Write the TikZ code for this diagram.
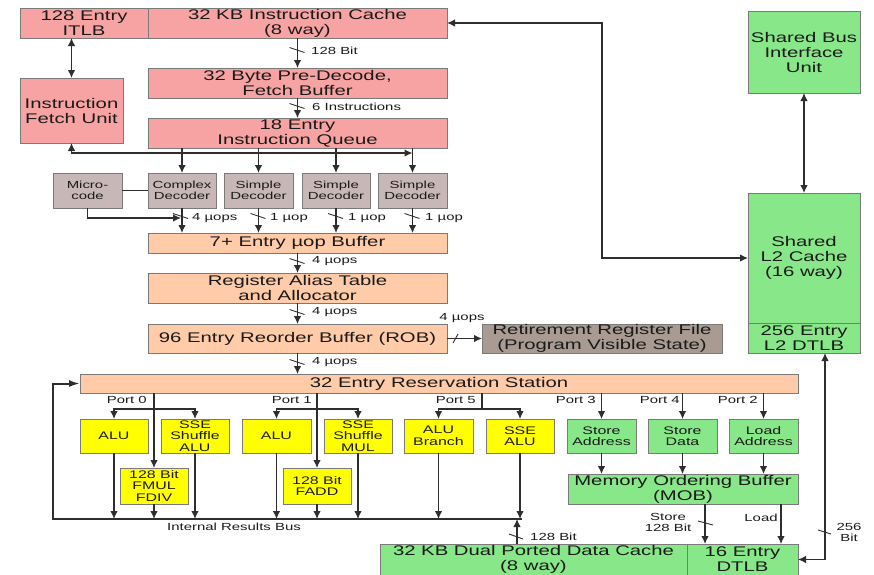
\documentclass[tikz,border=0pt]{standalone}
\usepackage{fontspec}
\setmainfont[FakeStretch=1.45]{Liberation Sans}
\usetikzlibrary{arrows.meta}
\definecolor{pinkc}{HTML}{F8A3A3}
\definecolor{peachc}{HTML}{FFCBA8}
\definecolor{decc}{HTML}{C8B7B7}
\definecolor{rrfc}{HTML}{A99B92}
\definecolor{yelc}{HTML}{FFFF00}
\definecolor{greenc}{HTML}{88E788}
\definecolor{boxline}{HTML}{7A7A7A}
\definecolor{linec}{HTML}{2E2E2E}
\definecolor{txt}{HTML}{1A1A1A}
\newcommand\fbig{\fontsize{14}{15}\selectfont}
\newcommand\fmid{\fontsize{11}{11.5}\selectfont}
\newcommand\fsmall{\fontsize{10.3}{11}\selectfont}
\newcommand\mybox[7]{\node[#6, minimum width={#4-#2}, minimum height={#5-#3}] (#1) at ({(#2+#4)/2},{(#3+#5)/2}) {#7};}
\newcommand\vslash[2]{\draw[slashst] ({#1-8},{#2-2.5}) -- ({#1+7},{#2+2.5});}
\begin{document}
\begin{tikzpicture}[x=1pt,y=-1pt,
  box/.style={draw=boxline, line width=0.9pt, inner sep=0pt, outer sep=0pt, align=center, text=txt},
  pinkb/.style={box, fill=pinkc, font=\fbig},
  decb/.style={box, fill=decc, font=\fsmall},
  peachb/.style={box, fill=peachc, font=\fbig},
  rrfb/.style={box, fill=rrfc, font=\fbig},
  yelb/.style={box, fill=yelc, font=\fmid},
  greenb/.style={box, fill=greenc, font=\fbig},
  greens/.style={box, fill=greenc, font=\fmid},
  wire/.style={draw=linec, line width=1.2pt},
  conn/.style={wire, -{Latex[length=8pt,width=7.5pt]}},
  conntwo/.style={wire, {Latex[length=8pt,width=7.5pt]}-{Latex[length=8pt,width=7.5pt]}},
  busline/.style={draw=linec, line width=2pt, -{Latex[length=11pt,width=7pt]}},
  slashst/.style={draw=linec, line width=0.9pt},
  lbl/.style={font=\fsmall, text=txt, inner sep=0pt, align=center},
]
\useasboundingbox (0,0) rectangle (874,574);
\clip (0,0) rectangle (874,574);

% front end
\mybox{itlb}{20}{8}{148}{38}{pinkb}{128 Entry\\ITLB}
\mybox{icache}{148}{8}{447}{38}{pinkb}{32 KB Instruction Cache\\(8 way)}
\mybox{predec}{148}{68}{447}{98}{pinkb}{32 Byte Pre-Decode,\\Fetch Buffer}
\mybox{ifu}{20}{78}{123}{143}{pinkb}{Instruction\\Fetch Unit}
\mybox{iq}{148}{118}{447}{148}{pinkb}{18 Entry\\Instruction Queue}
\mybox{mc}{53}{173}{122}{208}{decb}{Micro-\\code}
\mybox{cd}{148}{173}{216}{208}{decb}{Complex\\Decoder}
\mybox{sd1}{224}{173}{293}{208}{decb}{Simple\\Decoder}
\mybox{sd2}{302}{173}{370}{208}{decb}{Simple\\Decoder}
\mybox{sd3}{378}{173}{447}{208}{decb}{Simple\\Decoder}
\mybox{uopb}{148}{233}{447}{253}{peachb}{7+ Entry µop Buffer}
\mybox{rat}{148}{273}{447}{303}{peachb}{Register Alias Table\\and Allocator}
\mybox{rob}{148}{324}{447}{353}{peachb}{96 Entry Reorder Buffer (ROB)}
\mybox{rrf}{482}{324}{722}{353}{rrfb}{Retirement Register File\\(Program Visible State)}
\mybox{rs}{80}{374}{798}{393}{peachb}{32 Entry Reservation Station}

% execution units
\mybox{alu0}{80}{419}{148}{453}{yelb}{ALU}
\mybox{sse0}{161}{419}{229}{453}{yelb}{SSE\\Shuffle\\ALU}
\mybox{fmul}{120}{468}{188}{504}{yelb}{128 Bit\\FMUL\\FDIV}
\mybox{alu1}{242}{419}{311}{453}{yelb}{ALU}
\mybox{sse1}{324}{419}{392}{453}{yelb}{SSE\\Shuffle\\MUL}
\mybox{fadd}{283}{468}{351}{504}{yelb}{128 Bit\\FADD}
\mybox{alub}{404}{419}{473}{453}{yelb}{ALU\\Branch}
\mybox{sse5}{486}{419}{554}{453}{yelb}{SSE\\ALU}
\mybox{sta}{567}{419}{636}{453}{greens}{Store\\Address}
\mybox{std}{648}{419}{717}{453}{greens}{Store\\Data}
\mybox{lda}{729}{419}{798}{453}{greens}{Load\\Address}
\mybox{mob}{568}{474}{798}{504}{greenb}{Memory Ordering Buffer\\(MOB)}
\mybox{dc}{380}{544}{687}{575}{greenb}{32 KB Dual Ported Data Cache\\(8 way)}
\mybox{dtlb}{687}{544}{798}{575}{greenb}{16 Entry\\DTLB}

% L2 side
\mybox{sbiu}{748}{11}{860}{93}{greenb}{Shared Bus\\Interface\\Unit}
\mybox{l2}{748}{193}{860}{323}{greenb}{Shared\\L2 Cache\\(16 way)}
\mybox{l2tlb}{748}{323}{860}{353}{greenb}{256 Entry\\L2 DTLB}

% front-end connectors
\draw[conntwo] (ifu.north) -- (ifu.north |- itlb.south);
\draw[conn] (icache.south) -- (predec.north);
\vslash{297.5}{50}
\node[lbl, anchor=west] (l128a) at (311,51) {128 Bit};
\draw[conn] (predec.south) -- (iq.north);
\vslash{297.5}{106}
\node[lbl, anchor=west] (l6i) at (312,107) {6 Instructions};
\foreach \d in {cd,sd1,sd2,sd3} {\draw[conn] (iq.south -| \d.north) -- (\d.north);}
\coordinate (fb) at (412.5,153);
\draw[conntwo] (ifu.south) |- (fb);
\draw[wire] (mc.east) -- (cd.west);
\coordinate (mcj) at (181,218);
\draw[conn] (mc.south) |- (mcj);
\foreach \d in {cd,sd1,sd2,sd3} {\draw[conn] (\d.south) -- (\d.south |- uopb.north);}
\vslash{181}{216}
\vslash{258.5}{216}
\vslash{336}{216}
\vslash{412.5}{216}
\node[lbl, anchor=west] (l4a) at (192,218) {4 µops};
\node[lbl, anchor=west] (l1a) at (270,218) {1 µop};
\node[lbl, anchor=west] (l1b) at (348,218) {1 µop};
\node[lbl, anchor=west] (l1c) at (425,218) {1 µop};
\draw[conn] (uopb.south) -- (rat.north);
\vslash{297.5}{261}
\node[lbl, anchor=west] (l4b) at (312,261) {4 µops};
\draw[conn] (rat.south) -- (rob.north);
\vslash{297.5}{312}
\node[lbl, anchor=west] (l4c) at (312,312) {4 µops};
\draw[conn] (rob.south) -- (rob.south |- rs.north);
\vslash{297.5}{362}
\node[lbl, anchor=west] (l4d) at (312,362) {4 µops};
\draw[conn] (rob.east) -- (rrf.west);
\draw[slashst] (453,343) -- (458,334);
\node[lbl] (l4e) at (462,318) {4 µops};

% ports
\coordinate (p0) at (154,409);
\draw[conn] (rs.south -| fmul.north) -- (fmul.north);
\draw[conn] (p0) -| (alu0.north);
\draw[conn] (p0) -| (sse0.north);
\node[lbl, anchor=east] (lp0) at (147,400) {Port 0};
\coordinate (p1) at (317,409);
\draw[conn] (rs.south -| fadd.north) -- (fadd.north);
\draw[conn] (p1) -| (alu1.north);
\draw[conn] (p1) -| (sse1.north);
\node[lbl, anchor=east] (lp1) at (312,400) {Port 1};
\coordinate (p5) at (482,409);
\draw[wire] (rs.south -| p5) -- (p5);
\draw[conn] (p5) -| (alub.north);
\draw[conn] (p5) -| (sse5.north);
\node[lbl, anchor=east] (lp5) at (476,400) {Port 5};
\draw[conn] (rs.south -| sta.north) -- (sta.north);
\node[lbl, anchor=east] (lp3) at (596,400) {Port 3};
\draw[conn] (rs.south -| std.north) -- (std.north);
\node[lbl, anchor=east] (lp4) at (680,400) {Port 4};
\draw[conn] (rs.south -| lda.north) -- (lda.north);
\node[lbl, anchor=east] (lp2) at (758,400) {Port 2};

% results bus
\coordinate (busL) at (53,519);
\coordinate (busR) at (522,519);
\foreach \u in {alu0,fmul,sse0,alu1,fadd,sse1,alub,sse5} {\draw[conn] (\u.south) -- (\u.south |- busL);}
\draw[busline] (busR) -- (busL) |- (rs.west);
\node[lbl] (irb) at (234,527) {Internal Results Bus};
\coordinate (dcu) at (517,519);
\draw[conn] (dc.north -| dcu) -- (dcu);
\draw[slashst] (509,534) -- (523,539);
\node[lbl, anchor=west] (l128b) at (530,537) {128 Bit};

% memory
\foreach \u in {sta,std,lda} {\draw[conn] (\u.south) -- (\u.south |- mob.north);}
\coordinate (stx) at (705,0);
\draw[conn] (mob.south -| stx) -- (dtlb.north -| stx);
\draw[slashst] (698,521) -- (713,525);
\node[lbl] (lst) at (668,522) {Store\\128 Bit};
\coordinate (ldx) at (781,0);
\draw[conn] (mob.south -| ldx) -- (dtlb.north -| ldx);
\node[lbl] (lld) at (761,518) {Load};
\coordinate (c256) at (825,559.5);
\draw[conntwo] (dtlb.east) -- (c256) -- (c256 |- l2tlb.south);
\draw[slashst] (818,530) -- (831,534);
\node[lbl] (l256) at (849,532) {256\\Bit};

% L2 connections
\draw[conntwo] (sbiu.south) -- (l2.north);
\coordinate (cb) at (602,23);
\draw[conntwo] (icache.east) -- (cb) |- (l2.west);
\end{tikzpicture}
\end{document}
